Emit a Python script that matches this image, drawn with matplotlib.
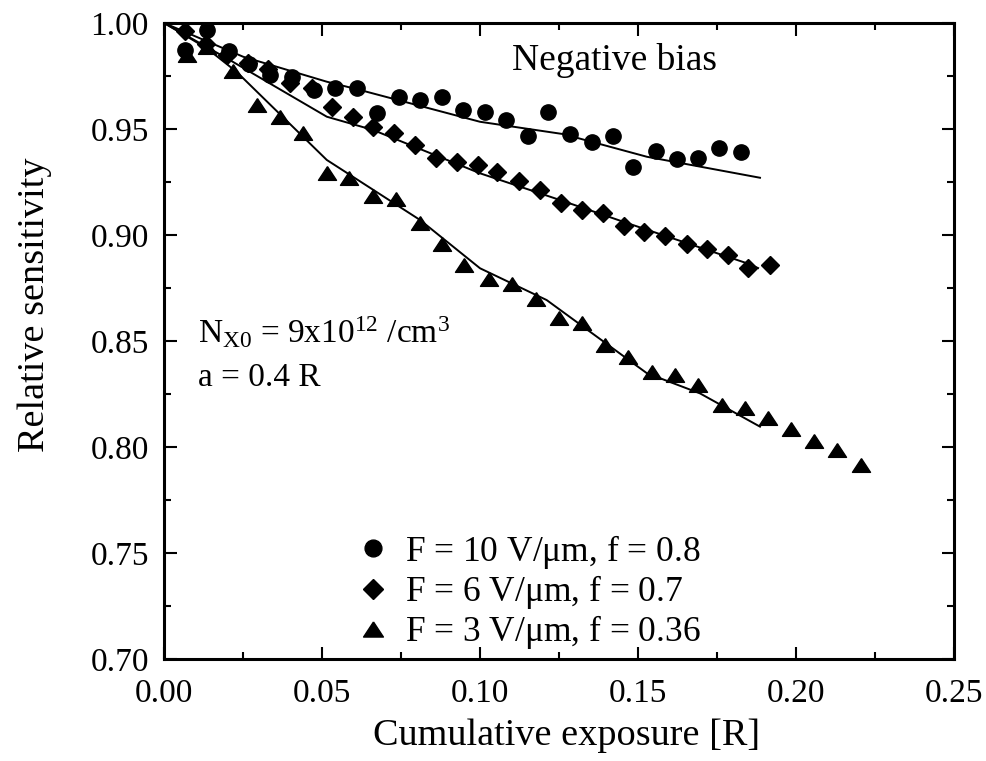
import matplotlib
matplotlib.use("Agg")
import matplotlib.pyplot as plt
from matplotlib.ticker import MultipleLocator, FormatStrFormatter

plt.rcParams['font.family'] = ['Liberation Serif', 'DejaVu Serif']
plt.rcParams['mathtext.fontset'] = 'custom'
plt.rcParams['mathtext.rm'] = 'Liberation Serif'
plt.rcParams['mathtext.it'] = 'Liberation Serif:italic'

# F = 10 V/um, f = 0.8
x_f10 = [0.0067, 0.0135, 0.0204, 0.0269, 0.0335, 0.0404, 0.0473, 0.0541, 0.0610,
         0.0675, 0.0745, 0.0810, 0.0879, 0.0947, 0.1016, 0.1082, 0.1151, 0.1216,
         0.1285, 0.1354, 0.1420, 0.1485, 0.1556, 0.1623, 0.1691, 0.1757, 0.1825]
y_f10 = [0.9873, 0.9967, 0.9869, 0.9807, 0.9755, 0.9747, 0.9684, 0.9692, 0.9692,
         0.9574, 0.9650, 0.9637, 0.9650, 0.9590, 0.9582, 0.9543, 0.9467, 0.9582,
         0.9476, 0.9440, 0.9468, 0.9322, 0.9398, 0.9359, 0.9362, 0.9409, 0.9393]

# F = 6 V/um, f = 0.7
x_f6 = [0.0067, 0.0133, 0.0198, 0.0267, 0.0330, 0.0399, 0.0467, 0.0531, 0.0597,
        0.0662, 0.0728, 0.0794, 0.0861, 0.0926, 0.0995, 0.1053, 0.1124, 0.1190,
        0.1256, 0.1322, 0.1388, 0.1454, 0.1520, 0.1585, 0.1654, 0.1719, 0.1786,
        0.1849, 0.1918]
y_f6 = [0.9964, 0.9901, 0.9849, 0.9810, 0.9782, 0.9716, 0.9692, 0.9605, 0.9558,
        0.9508, 0.9483, 0.9425, 0.9362, 0.9346, 0.9330, 0.9299, 0.9255, 0.9212,
        0.9152, 0.9116, 0.9104, 0.9043, 0.9016, 0.8995, 0.8956, 0.8933, 0.8906,
        0.8843, 0.8859]

# F = 3 V/um, f = 0.36
x_f3 = [0.0072, 0.0135, 0.0219, 0.0293, 0.0367, 0.0439, 0.0515, 0.0586, 0.0662,
        0.0734, 0.0810, 0.0880, 0.0949, 0.1029, 0.1102, 0.1176, 0.1250, 0.1322,
        0.1396, 0.1469, 0.1543, 0.1617, 0.1691, 0.1765, 0.1839, 0.1912, 0.1983,
        0.2057, 0.2131, 0.2205]
y_f3 = [0.9849, 0.9888, 0.9775, 0.9613, 0.9558, 0.9480, 0.9291, 0.9270, 0.9184,
        0.9168, 0.9058, 0.8958, 0.8859, 0.8791, 0.8769, 0.8697, 0.8607, 0.8584,
        0.8481, 0.8426, 0.8355, 0.8340, 0.8293, 0.8198, 0.8183, 0.8135, 0.8084,
        0.8030, 0.7986, 0.7915]

# model curves
fit_x_f10 = [0.0, 0.025, 0.0515, 0.062, 0.100, 0.1263, 0.1528, 0.1886]
fit_y_f10 = [1.0, 0.9841, 0.9723, 0.9684, 0.9534, 0.9476, 0.9369, 0.9270]

fit_x_f6 = [0.0, 0.0198, 0.0515, 0.0662, 0.100, 0.1253, 0.1464, 0.1844, 0.1880]
fit_y_f6 = [1.0, 0.9834, 0.9558, 0.9495, 0.9291, 0.9165, 0.9057, 0.8867, 0.8844]

fit_x_f3 = [0.0, 0.0135, 0.0230, 0.0515, 0.0810, 0.100, 0.1211, 0.1528, 0.1696, 0.1886]
fit_y_f3 = [1.0, 0.9881, 0.9769, 0.9354, 0.9071, 0.8843, 0.8693, 0.8348, 0.8253, 0.8096]

labels = [r"F = 10 V/$\mathrm{\mu}$m, f = 0.8",
          r"F = 6 V/$\mathrm{\mu}$m, f = 0.7",
          r"F = 3 V/$\mathrm{\mu}$m, f = 0.36"]

# slightly flattened triangle marker
tri = [(0.0, 0.76), (-1.0, -0.76), (1.0, -0.76), (0.0, 0.76)]

fig = plt.figure(figsize=(9.87, 7.61), dpi=100)
ax = fig.add_axes([0.1662, 0.134, 0.8004, 0.8358])

lw = 1.4
ax.plot(fit_x_f10, fit_y_f10, color='black', lw=lw)
ax.plot(fit_x_f6, fit_y_f6, color='black', lw=lw)
ax.plot(fit_x_f3, fit_y_f3, color='black', lw=lw)

h1, = ax.plot(x_f10, y_f10, 'o', color='black', ms=11, ls='none', label=labels[0])
h2, = ax.plot(x_f6, y_f6, 'D', color='black', ms=9, ls='none', label=labels[1])
h3, = ax.plot(x_f3, y_f3, marker=tri, color='black', ms=13, ls='none', label=labels[2])

ax.set_xlim(0.0, 0.25)
ax.set_ylim(0.70, 1.00)
ax.xaxis.set_major_locator(MultipleLocator(0.05))
ax.xaxis.set_minor_locator(MultipleLocator(0.025))
ax.yaxis.set_major_locator(MultipleLocator(0.05))
ax.yaxis.set_minor_locator(MultipleLocator(0.025))
ax.xaxis.set_major_formatter(FormatStrFormatter('%.2f'))
ax.yaxis.set_major_formatter(FormatStrFormatter('%.2f'))

ax.tick_params(which='both', direction='in', top=True, right=True, width=1.5)
ax.tick_params(which='major', length=9, labelsize=24)
ax.tick_params(which='minor', length=5)
ax.tick_params(axis='y', which='major', pad=11)
ax.tick_params(axis='x', which='major', pad=14)
for s in ax.spines.values():
    s.set_linewidth(2.2)

ax.set_xlabel("Cumulative exposure [R]", fontsize=27.5)
ax.xaxis.set_label_coords(0.51, -0.093)
ax.set_ylabel("Relative sensitivity", fontsize=27.5)
ax.yaxis.set_label_coords(-0.142, 0.557)

ax.text(0.1427, 0.9778, "Negative bias", fontsize=27, ha='center', va='baseline')
ax.text(0.0108, 0.849, r"N$_{\mathrm{X0}}$ = 9x10$^{12}$ /cm$^{3}$", fontsize=24,
        ha='left', va='baseline')
ax.text(0.0108, 0.829, "a = 0.4 R", fontsize=24, ha='left', va='baseline')

ax.legend(handles=[h1, h2, h3], loc='center left', bbox_to_anchor=(0.2511, 0.1055),
          frameon=False, fontsize=25.5, handlelength=0.6, handletextpad=0.6,
          labelspacing=0.06, borderaxespad=0.0, borderpad=0.0, markerscale=1.1)

fig.savefig("out.png", dpi=100)
